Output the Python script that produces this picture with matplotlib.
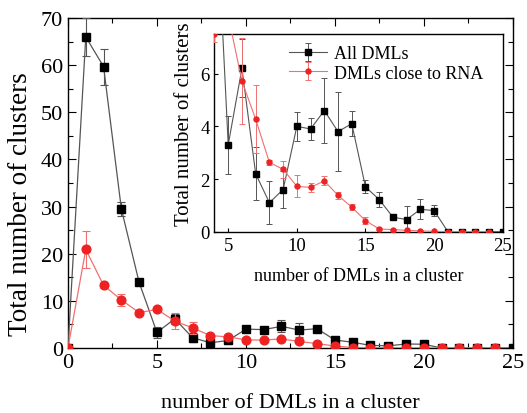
import matplotlib
matplotlib.use("Agg")
import matplotlib.pyplot as plt
from matplotlib.ticker import MultipleLocator

# cluster size (number of DMLs in a cluster)
x_all = list(range(0, 26))
all_vals = [0, 66, 59.7, 29.5, 13.9, 3.3, 6.2, 2.2, 1.1, 1.6, 4.0, 3.9, 4.6, 3.8, 4.1,
            1.7, 1.22, 0.55, 0.46, 0.85, 0.8, 0, 0, 0, 0, 0]
all_err = [0, 4.0, 3.8, 1.5, 0.5, 1.1, 1.1, 1.0, 0.82, 0.7, 0.55, 0.42, 1.25, 1.5, 0.47,
           0.25, 0.3, 0.06, 0.5, 0.38, 0.22, 0, 0, 0, 0, 0]

x_rna = list(range(0, 25))
rna_vals = [0, 20.9, 13.3, 10.2, 7.5, 8.2, 5.72, 4.27, 2.63, 2.37, 1.72, 1.68, 1.93, 1.38,
            0.93, 0.42, 0.1, 0.08, 0.05, 0.03, 0.01, 0, 0, 0, 0]
rna_err = [0, 4.0, 0.5, 1.3, 0.3, 0.4, 1.63, 1.3, 0.1, 0.33, 0.42, 0.17, 0.17, 0.13,
           0.12, 0.12, 0.03, 0.03, 0.03, 0.02, 0.01, 0, 0, 0, 0]

plt.rcParams["font.family"] = ["Liberation Serif", "DejaVu Serif"]

BLACK_LINE = "#555555"
RED = "#ee2222"
RED_LINE = "#f07070"


def style_axes(ax, labelsize, major_len, minor_len):
    ax.tick_params(which="both", direction="in", top=True, right=True, labelsize=labelsize,
                   width=0.8)
    ax.tick_params(which="major", length=major_len)
    ax.tick_params(which="minor", length=minor_len)
    for sp in ax.spines.values():
        sp.set_linewidth(1.0)


fig = plt.figure(figsize=(5.27, 4.14), dpi=100)
ax = fig.add_axes([0.129, 0.157, 0.844, 0.797])

ax.errorbar(x_all, all_vals, yerr=all_err, color=BLACK_LINE, ecolor=BLACK_LINE, lw=0.9,
            elinewidth=0.8, capsize=2.8, capthick=0.8, marker="s", ms=5.3, mfc="black",
            mec="black", zorder=3)
ax.errorbar(x_rna, rna_vals, yerr=rna_err, color=RED_LINE, ecolor=RED_LINE, lw=0.9,
            elinewidth=0.8, capsize=2.8, capthick=0.8, marker="o", ms=6.3, mfc=RED,
            mec=RED, zorder=4)

ax.set_xlim(0, 25)
ax.set_ylim(0, 70)
ax.xaxis.set_major_locator(MultipleLocator(5))
ax.xaxis.set_minor_locator(MultipleLocator(2.5))
ax.yaxis.set_major_locator(MultipleLocator(10))
ax.yaxis.set_minor_locator(MultipleLocator(5))
style_axes(ax, 16, 6, 3.5)
ax.set_xlabel("number of DMLs in a cluster", fontsize=16, labelpad=15)
ax.set_ylabel("Total number of clusters", fontsize=19.5)
ax.yaxis.set_label_coords(-0.078, 0.44)

# inset zoom on the tail
ins = fig.add_axes([0.407, 0.438, 0.547, 0.477])
ins.errorbar(x_all, all_vals, yerr=all_err, color=BLACK_LINE, ecolor=BLACK_LINE, lw=0.8,
             elinewidth=0.7, capsize=2.5, capthick=0.7, marker="s", ms=3.8, mfc="black",
             mec="black", label="All DMLs", zorder=3)
ins.errorbar(x_rna, rna_vals, yerr=rna_err, color=RED_LINE, ecolor=RED_LINE, lw=0.8,
             elinewidth=0.7, capsize=2.5, capthick=0.7, marker="o", ms=3.6, mfc=RED,
             mec=RED, label="DMLs close to RNA", zorder=4)
ins.set_xlim(4, 25)
ins.set_ylim(0, 7.5)
ins.xaxis.set_major_locator(MultipleLocator(5))
ins.yaxis.set_major_locator(MultipleLocator(2))
style_axes(ins, 13.5, 3, 2)
ins.tick_params(top=False, right=False)
ins.set_xlabel("number of DMLs in a cluster", fontsize=13, labelpad=10)
ins.set_ylabel("Total number of clusters", fontsize=15)
ins.yaxis.set_label_coords(-0.07, 0.55)
ins.legend(loc="upper right", frameon=False, fontsize=13, handlelength=2.1,
           borderaxespad=0.2, bbox_to_anchor=(0.97, 1.0), labelspacing=0.15,
           handletextpad=0.4)

fig.savefig("out.png", dpi=100)
